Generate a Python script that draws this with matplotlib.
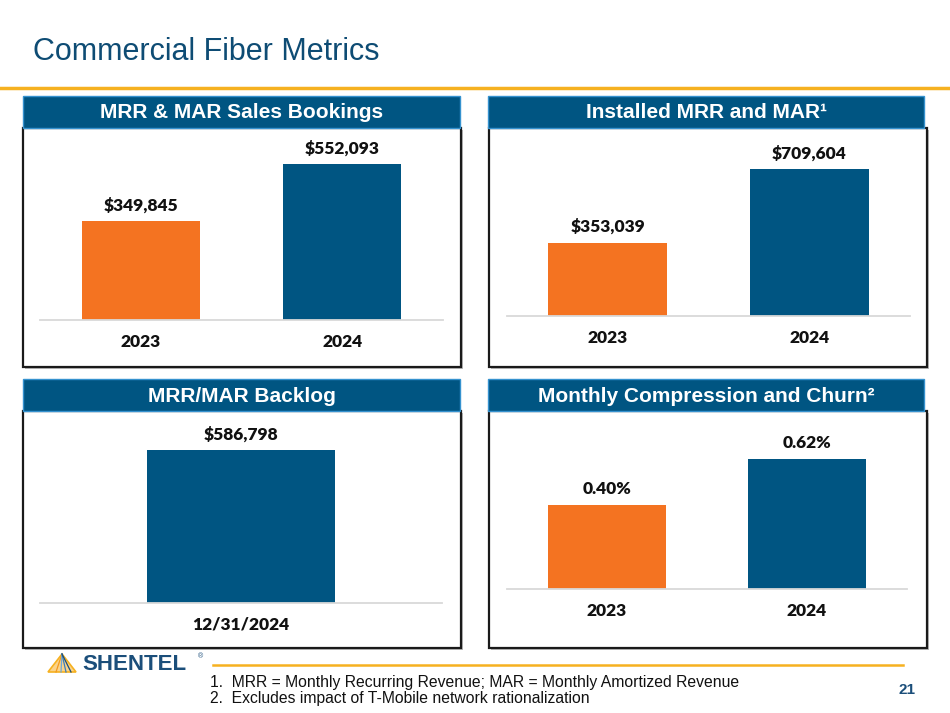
import matplotlib
matplotlib.use('Agg')
import matplotlib.pyplot as plt
from matplotlib.patches import Rectangle, Polygon
from matplotlib.lines import Line2D

# data
bookings_years = ['2023', '2024']
bookings = [349845, 552093]
installed_years = ['2023', '2024']
installed = [353039, 709604]
backlog_dates = ['12/31/2024']
backlog = [586798]
churn_years = ['2023', '2024']
churn = [0.40, 0.62]

ORANGE = '#F47321'
BLUE = '#005582'
GOLD = '#F6B120'
TITLE_BLUE = '#0E4C74'

W, H = 950, 713
plt.rcParams['font.family'] = ['Liberation Sans', 'DejaVu Sans']
fig = plt.figure(figsize=(W / 100, H / 100), dpi=100)


def fx(x):
    return x / W


def fy(y):
    return 1 - y / H


def rect(x0, y0, x1, y1, **kw):
    r = Rectangle((fx(x0), fy(y1)), (x1 - x0) / W, (y1 - y0) / H,
                  transform=fig.transFigure, **kw)
    fig.add_artist(r)


def hline(x0, x1, y, **kw):
    fig.add_artist(Line2D([fx(x0), fx(x1)], [fy(y), fy(y)],
                          transform=fig.transFigure, **kw))


# title + gold rule
fig.text(fx(33), fy(52), 'Commercial Fiber Metrics', fontsize=22,
         color=TITLE_BLUE, va='center', ha='left')
hline(0, 950, 88, color=GOLD, lw=2.5)


def header(x0, x1, y0, y1, text):
    rect(x0, y0, x1, y1, facecolor=BLUE, edgecolor='#3592CF', lw=1, zorder=-2)
    fig.text(fx((x0 + x1) / 2), fy((y0 + y1) / 2 + 1), text, color='white',
             fontsize=15, fontweight='bold', ha='center', va='center')


def frame(x0, x1, y0, y1):
    rect(x0 + 2, y0 + 2, x1 + 2, y1 + 2, facecolor='#BBBBBB', edgecolor='none', zorder=-3)
    rect(x0, y0, x1, y1, facecolor='white', edgecolor='#1A1A1A', lw=1.6, zorder=-2)


def panel(x0, x1, ybase, ytop, cats, vals, labels, colors, ymax, xlim, width):
    ax = fig.add_axes([fx(x0), fy(ybase), (x1 - x0) / W, (ybase - ytop) / H])
    ax.set_zorder(5)
    ax.patch.set_alpha(0)
    pos = list(range(len(cats)))
    ax.bar(pos, vals, width=width, color=colors)
    for i, v in enumerate(vals):
        ax.annotate(labels[i], (i, v), xytext=(0, 11.5), textcoords='offset points',
                    ha='center', va='center', fontsize=12.5, fontweight='heavy',
                    color='#111111', family=['Lato', 'DejaVu Sans'])
    ax.set_xticks(pos, cats)
    for t in ax.get_xticklabels():
        t.set_fontweight('heavy')
        t.set_fontsize(12.5)
        t.set_family(['Lato', 'DejaVu Sans'])
        t.set_color('#111111')
    ax.tick_params(axis='x', length=0, pad=10)
    ax.set_yticks([])
    ax.set_xlim(xlim)
    ax.set_ylim(0, ymax)
    for s in ['top', 'left', 'right']:
        ax.spines[s].set_visible(False)
    ax.spines['bottom'].set_color('#D9D9D9')
    ax.spines['bottom'].set_linewidth(1.3)
    return ax


# frames and headers
frame(23, 461, 128, 367)
frame(489, 927, 128, 367)
frame(23, 461, 411, 648)
frame(489, 927, 411, 648)
header(23, 460, 96, 128, 'MRR & MAR Sales Bookings')
header(488, 924, 96, 128, 'Installed MRR and MAR¹')
header(23, 460, 379, 411, 'MRR/MAR Backlog')
header(488, 924, 379, 411, 'Monthly Compression and Churn²')

panel(40, 443, 320, 135, bookings_years, bookings,
      ['${:,.0f}'.format(v) for v in bookings], [ORANGE, BLUE],
      655000, (-0.5, 1.5), 0.585)
panel(507, 910, 316, 135, installed_years, installed,
      ['${:,.0f}'.format(v) for v in installed], [ORANGE, BLUE],
      874000, (-0.5, 1.5), 0.59)
panel(40, 442, 603, 420, backlog_dates, backlog,
      ['${:,.0f}'.format(v) for v in backlog], [BLUE],
      702000, (-0.5, 0.5), 0.468)
panel(507, 907, 589, 420, churn_years, churn,
      ['{:.2f}%'.format(v) for v in churn], [ORANGE, BLUE],
      0.806, (-0.5, 1.5), 0.59)

# footer: logo, rule, notes, page number
tri = [(fx(62), fy(654)), (fx(48), fy(672)), (fx(76), fy(672))]
fig.add_artist(Polygon(tri, closed=True, facecolor='#FBD38A', edgecolor=GOLD,
                       lw=1.2, transform=fig.transFigure))
for k, c in enumerate(['#F39A1E', '#6FA8D6', '#3A7EBF', '#1B4E7A']):
    fig.add_artist(Line2D([fx(62), fx(56 + 5 * k)], [fy(654), fy(672)],
                          color=c, lw=0.9, transform=fig.transFigure))
fig.text(fx(82), fy(664), 'SHENTEL', fontsize=16, fontweight='bold',
         color='#1B4E7A', va='center', ha='left')
fig.text(fx(198), fy(657), '®', fontsize=5, color='#1B4E7A', va='center')

hline(213, 903, 665, color=GOLD, lw=1.8)
fig.text(fx(210), fy(682), '1.  MRR = Monthly Recurring Revenue; MAR = Monthly Amortized Revenue',
         fontsize=11.3, color='#111111', va='center', ha='left')
fig.text(fx(210), fy(698), '2.  Excludes impact of T-Mobile network rationalization',
         fontsize=11.3, color='#111111', va='center', ha='left')
fig.text(fx(907), fy(690), '21', fontsize=11, fontweight='bold',
         color='#1B4E7A', va='center', ha='center')

fig.savefig('out.png', dpi=100)
